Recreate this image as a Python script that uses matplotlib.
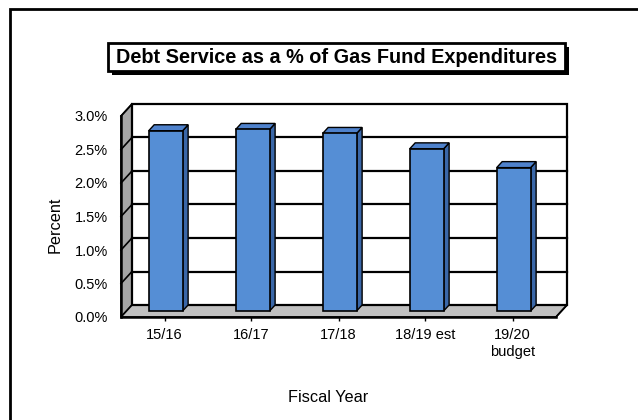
import numpy as np
import matplotlib
matplotlib.use("Agg")
import matplotlib.pyplot as plt
from matplotlib.patches import Polygon, Rectangle

plt.rcParams['font.family'] = ['Liberation Sans', 'DejaVu Sans']

years = ['15/16', '16/17', '17/18', '18/19 est', '19/20\nbudget']
pct = [2.69, 2.71, 2.65, 2.42, 2.14]
yticks = [0.0, 0.5, 1.0, 1.5, 2.0, 2.5, 3.0]

W, H = 638, 420
fig = plt.figure(figsize=(W / 100, H / 100), dpi=100)

# front plane of the 3-D box
ax = fig.add_axes([121 / W, 1 - 317 / H, 435 / W, 201 / H])
n = len(years)
ymax = 3.0
ax.set_xlim(0, n)
ax.set_ylim(0, ymax)
for s in ax.spines.values():
    s.set_visible(False)
ax.patch.set_visible(False)

# depth of the box in data units (x, y)
kx, ky = 11 / (435 / n), 12 / (201 / ymax)


def pt(x, y, z):
    return (x + z * kx, y + z * ky)


def poly(pts, **kw):
    p = Polygon([pt(*q) for q in pts], closed=True, clip_on=False, **kw)
    ax.add_patch(p)


def line(a, b, **kw):
    (x0, y0), (x1, y1) = pt(*a), pt(*b)
    ax.plot([x0, x1], [y0, y1], clip_on=False, solid_capstyle='projecting', **kw)


# walls and floor
poly([(0, 0, 0), (0, 0, 1), (0, ymax, 1), (0, ymax, 0)], facecolor='#a6a6a6',
     edgecolor='black', lw=1.2, zorder=1)
poly([(0, 0, 0), (n, 0, 0), (n, 0, 1), (0, 0, 1)], facecolor='#c0c0c0',
     edgecolor='black', lw=1.2, zorder=1)
poly([(0, 0, 1), (n, 0, 1), (n, ymax, 1), (0, ymax, 1)], facecolor='white',
     edgecolor='black', lw=1.6, zorder=1)

for v in yticks[1:-1]:
    line((0, v, 0), (0, v, 1), color='black', lw=1.2, zorder=2)
    line((0, v, 1), (n, v, 1), color='black', lw=1.6, zorder=2)

# front axis edges
line((0, 0, 0), (0, ymax, 0), color='black', lw=1.8, zorder=2)
line((0, 0, 0), (n, 0, 0), color='black', lw=1.8, zorder=2)
line((0, ymax, 0), (0, ymax, 1), color='black', lw=1.2, zorder=2)
line((n, 0, 0), (n, 0, 1), color='black', lw=1.2, zorder=2)

# columns
bw = 0.39
for i, v in enumerate(pct):
    c = i + 0.45
    l, r = c - bw / 2, c + bw / 2
    poly([(r, 0, 0.5), (r, 0, 1), (r, v, 1), (r, v, 0.5)], facecolor='#3a67a8',
         edgecolor='black', lw=1.0, zorder=3)
    poly([(l, v, 0.5), (r, v, 0.5), (r, v, 1), (l, v, 1)], facecolor='#4f82cc',
         edgecolor='black', lw=1.0, zorder=3)
    poly([(l, 0, 0.5), (r, 0, 0.5), (r, v, 0.5), (l, v, 0.5)], facecolor='#558ed5',
         edgecolor='black', lw=1.2, zorder=4)

ax.set_xticks(np.arange(n) + 0.5)
ax.set_xticklabels(years, fontsize=10.5, linespacing=1.3)
ax.set_yticks(yticks)
ax.set_yticklabels([f'{v:.1f}%' for v in yticks], fontsize=10.5)
ax.tick_params(axis='x', length=3, width=1, pad=5, color='black')
ax.tick_params(axis='y', length=0, pad=9.5)

fig.text(55 / W, 1 - 225 / H, 'Percent', rotation=90, fontsize=11.7,
         ha='center', va='center')
fig.text(328 / W, 1 - 397 / H, 'Fiscal Year', fontsize=11.7,
         ha='center', va='center')

# title box with drop shadow
fig.patches.append(Rectangle((112 / W, 1 - 75 / H), 457 / W, 28 / H,
                             transform=fig.transFigure, facecolor='black',
                             edgecolor='black', lw=0))
fig.patches.append(Rectangle((108 / W, 1 - 71 / H), 457 / W, 28 / H,
                             transform=fig.transFigure, facecolor='white',
                             edgecolor='black', lw=2))
fig.text(337 / W, 1 - 57.5 / H, 'Debt Service as a % of Gas Fund Expenditures',
         fontsize=14.3, fontweight='bold', ha='center', va='center')

# chart area border
fig.patches.append(Rectangle((10 / W, -0.05), 1.1, 1 - 9 / H + 0.05,
                             transform=fig.transFigure, facecolor='none',
                             edgecolor='black', lw=2))

fig.savefig('out.png', dpi=100)
